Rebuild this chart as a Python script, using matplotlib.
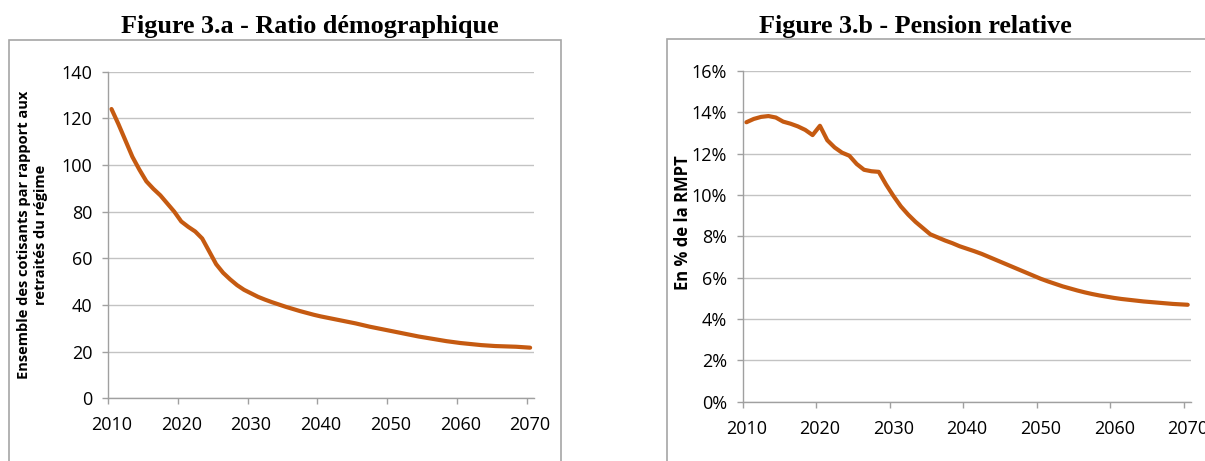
import matplotlib
matplotlib.use("Agg")
import matplotlib.pyplot as plt
from matplotlib.patches import Rectangle
from matplotlib.ticker import FuncFormatter

years = list(range(2010, 2071))

ratio_demo = [124.0, 117.5, 110.5, 103.5, 98.0, 93.0, 89.8, 87.0, 83.5, 80.0,
              75.8, 73.5, 71.5, 68.5, 63.0, 57.5, 53.8, 51.0, 48.5, 46.5,
              45.0, 43.5, 42.3, 41.2, 40.2, 39.2, 38.3, 37.4, 36.6, 35.8,
              35.1, 34.5, 33.9, 33.3, 32.7, 32.1, 31.4, 30.7, 30.1, 29.5,
              28.9, 28.3, 27.7, 27.1, 26.5, 26.0, 25.5, 25.0, 24.5, 24.1,
              23.7, 23.4, 23.1, 22.8, 22.6, 22.4, 22.3, 22.2, 22.1, 21.9,
              21.7]

pension_rel = [13.52, 13.68, 13.78, 13.82, 13.75, 13.55, 13.45, 13.32, 13.15, 12.90,
               13.35, 12.65, 12.30, 12.05, 11.90, 11.50, 11.22, 11.15, 11.12, 10.50,
               9.95, 9.45, 9.05, 8.70, 8.40, 8.10, 7.95, 7.80, 7.67, 7.52,
               7.40, 7.28, 7.15, 7.00, 6.85, 6.70, 6.55, 6.40, 6.25, 6.10,
               5.95, 5.82, 5.70, 5.58, 5.48, 5.38, 5.29, 5.21, 5.14, 5.08,
               5.02, 4.97, 4.93, 4.89, 4.85, 4.82, 4.79, 4.76, 4.73, 4.71,
               4.69]

year_labels = [2010, 2020, 2030, 2040, 2050, 2060, 2070]
ticks_a = [0, 20, 40, 60, 80, 100, 120, 140]
ticks_b = [0, 2, 4, 6, 8, 10, 12, 14, 16]

title_a = "Figure 3.a - Ratio démographique"
title_b = "Figure 3.b - Pension relative"
ylabel_a = "Ensemble des cotisants par rapport aux\nretraités du régime"
ylabel_b = "En % de la RMPT"

W, H = 1205, 461
fig = plt.figure(figsize=(W / 100, H / 100), dpi=100)

LINE = "#C55A11"
GRID = "#C3C3C3"
SPINE = "#A0A0A0"
FRAME = "#A6A6A6"
TICKFONT = "Open Sans"


def fx(px):
    return px / W


def fy(py):
    return 1 - py / H


# chart frames
fig.patches.append(Rectangle((fx(9.3), fy(470)), fx(561 - 9.3), fy(39.5) - fy(470),
                             transform=fig.transFigure, fill=False,
                             edgecolor=FRAME, linewidth=1.2))
fig.patches.append(Rectangle((fx(667.3), fy(470)), fx(1230 - 667.3), fy(38.7) - fy(470),
                             transform=fig.transFigure, fill=False,
                             edgecolor=FRAME, linewidth=1.2))

ax_a = fig.add_axes([fx(108), fy(398.3), fx(533.6 - 108), fy(71.7) - fy(398.3)])
ax_b = fig.add_axes([fx(742.7), fy(401.7), fx(1191.4 - 742.7), fy(71) - fy(401.7)])


def style(ax, ticks, fmt):
    ax.set_xlim(2009.5, 2070.5)
    ax.set_ylim(ticks[0], ticks[-1])
    ax.set_yticks(ticks)
    ax.yaxis.set_major_formatter(fmt)
    ax.set_xticks([y - 0.5 for y in year_labels])
    ax.set_xticklabels([])
    ax.set_xticks(year_labels, minor=True)
    ax.set_xticklabels([str(y) for y in year_labels], minor=True)
    ax.tick_params(axis="x", which="major", length=4.3, width=1.0, color=SPINE, direction="out")
    ax.tick_params(axis="x", which="minor", length=0, pad=13, labelsize=13)
    ax.tick_params(axis="y", which="major", length=4.3, width=1.0, color=SPINE, direction="out",
                   pad=7, labelsize=13)
    for lab in ax.get_xticklabels(minor=True) + ax.get_yticklabels():
        lab.set_fontfamily(TICKFONT)
    ax.grid(axis="y", color=GRID, linewidth=1.0)
    ax.set_axisbelow(True)
    for s in ("top", "right"):
        ax.spines[s].set_visible(False)
    for s in ("left", "bottom"):
        ax.spines[s].set_color(SPINE)
        ax.spines[s].set_linewidth(1.0)
    ax.patch.set_alpha(0)


ax_a.plot(years, ratio_demo, color=LINE, linewidth=3.0, solid_capstyle="round",
          solid_joinstyle="round", clip_on=False)
style(ax_a, ticks_a, FuncFormatter(lambda v, p: f"{v:.0f}"))

ax_b.plot(years, pension_rel, color=LINE, linewidth=3.0, solid_capstyle="round",
          solid_joinstyle="round", clip_on=False)
style(ax_b, ticks_b, FuncFormatter(lambda v, p: f"{v:.0f}%"))

fig.text(fx(310), fy(32.7), title_a, ha="center", va="baseline",
         fontfamily="Liberation Serif", fontweight="bold", fontsize=18.8)
fig.text(fx(915.4), fy(32.7), title_b, ha="center", va="baseline",
         fontfamily="Liberation Serif", fontweight="bold", fontsize=18.8)

fig.text(fx(32.5), fy(235), ylabel_a, rotation=90, ha="center", va="center",
         multialignment="center", fontfamily="Open Sans", fontweight="bold",
         fontsize=10.5, linespacing=1.3)
fig.text(fx(682.5), fy(222.5), ylabel_b, rotation=90, ha="center", va="center",
         fontfamily="Open Sans", fontweight="bold", fontsize=12)

fig.savefig("out.png", dpi=100)
